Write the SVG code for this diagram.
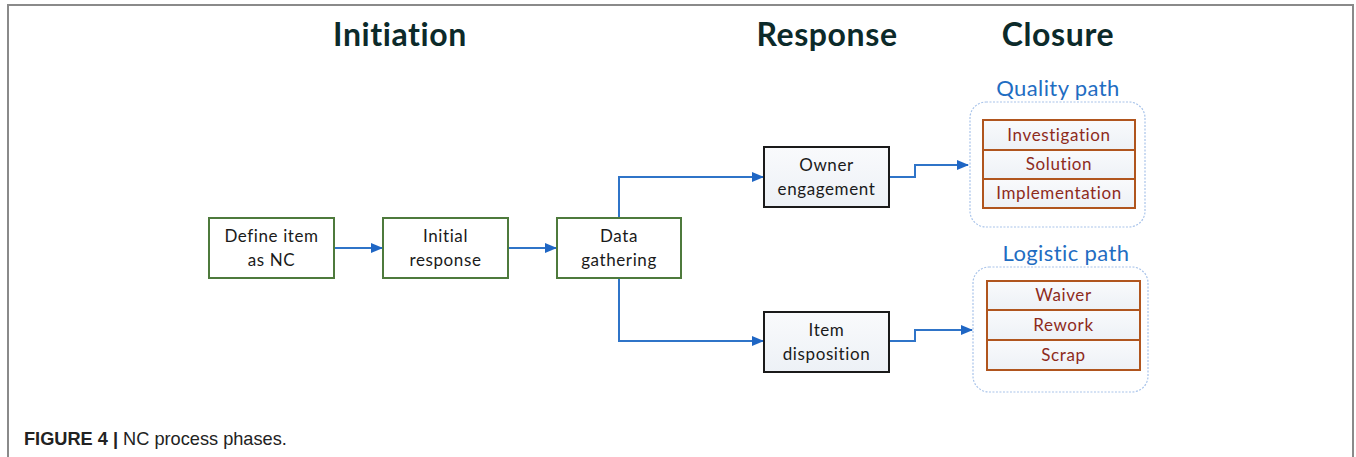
<svg xmlns="http://www.w3.org/2000/svg" width="1356" height="457" viewBox="0 0 1356 457">
  <defs>
    <style>
      .phase { font-family: Lato, "Open Sans", sans-serif; font-weight: bold; font-size: 32px; letter-spacing: 0.6px; fill: #0c2a2a; text-anchor: middle; }
      .path-title { font-family: Lato, "Open Sans", sans-serif; font-size: 22px; letter-spacing: 0.4px; fill: #1f6dc2; text-anchor: middle; }
      .lbl { font-family: Lato, "Open Sans", sans-serif; font-size: 17px; letter-spacing: 0.6px; fill: #1a1a1a; text-anchor: middle; }
      .step { font-family: Lato, "Open Sans", sans-serif; font-size: 17px; letter-spacing: 0.6px; fill: #8e2b1c; text-anchor: middle; }
      .green { fill: #ffffff; stroke: #4e7a3c; stroke-width: 2; }
      .black { fill: url(#pale); stroke: #1a1a1a; stroke-width: 2; }
      .cell { fill: url(#pale); stroke: #b0551e; stroke-width: 2; }
      .group { fill: #ffffff; stroke: #a9c4ea; stroke-width: 1.2; stroke-dasharray: 2 1.5; }
      .wire { fill: none; stroke: #2f74c8; stroke-width: 2; marker-end: url(#arrow); }
      .frame { fill: none; stroke: #8a8a8a; stroke-width: 2; }
      .cap { font-family: "Liberation Sans", Arial, sans-serif; font-size: 18.2px; fill: #222; }
    </style>
    <linearGradient id="pale" x1="0" y1="0" x2="0" y2="1">
      <stop offset="0" stop-color="#f9fafc"/>
      <stop offset="1" stop-color="#edf1f6"/>
    </linearGradient>
    <marker id="arrow" viewBox="0 0 12 10" refX="11" refY="5" markerWidth="12" markerHeight="10" markerUnits="userSpaceOnUse" orient="auto">
      <path d="M0,0 L12,5 L0,10 Z" fill="#1f66c4"/>
    </marker>
  </defs>

  <rect width="1356" height="457" fill="#ffffff"/>
  <path class="frame" d="M8,457 V5 H1353 V457"/>

  <!-- phase headings -->
  <text class="phase" x="400" y="46">Initiation</text>
  <text class="phase" x="827" y="46">Response</text>
  <text class="phase" x="1058" y="46">Closure</text>

  <!-- connectors -->
  <g id="connectors">
    <path class="wire" d="M334,248 H382"/>
    <path class="wire" d="M508,248 H556"/>
    <path class="wire" d="M619,218 V177 H763"/>
    <path class="wire" d="M619,278 V341 H763"/>
    <path class="wire" d="M889,177 H915 V165 H968"/>
    <path class="wire" d="M889,341 H915 V330 H972"/>
  </g>

  <g id="define-item">
    <rect class="green" x="209" y="218" width="125" height="60"/>
    <text class="lbl" x="271.5" y="242">Define item</text>
    <text class="lbl" x="271.5" y="266">as NC</text>
  </g>

  <g id="initial-response">
    <rect class="green" x="383" y="218" width="125" height="60"/>
    <text class="lbl" x="445.5" y="242">Initial</text>
    <text class="lbl" x="445.5" y="266">response</text>
  </g>

  <g id="data-gathering">
    <rect class="green" x="557" y="218" width="124" height="60"/>
    <text class="lbl" x="619" y="242">Data</text>
    <text class="lbl" x="619" y="266">gathering</text>
  </g>

  <g id="owner-engagement">
    <rect class="black" x="764" y="147" width="125" height="60"/>
    <text class="lbl" x="826.5" y="171">Owner</text>
    <text class="lbl" x="826.5" y="195">engagement</text>
  </g>

  <g id="item-disposition">
    <rect class="black" x="764" y="312" width="125" height="60"/>
    <text class="lbl" x="826.5" y="336">Item</text>
    <text class="lbl" x="826.5" y="360">disposition</text>
  </g>

  <g id="quality-path">
    <text class="path-title" x="1058" y="96">Quality path</text>
    <rect class="group" x="970" y="102" width="175" height="125" rx="16"/>
    <rect class="cell" x="983" y="120" width="152" height="30"/>
    <rect class="cell" x="983" y="150" width="152" height="29"/>
    <rect class="cell" x="983" y="179" width="152" height="29"/>
    <text class="step" x="1059" y="141">Investigation</text>
    <text class="step" x="1059" y="170">Solution</text>
    <text class="step" x="1059" y="199">Implementation</text>
  </g>

  <g id="logistic-path">
    <text class="path-title" x="1066" y="261">Logistic path</text>
    <rect class="group" x="973" y="267" width="175" height="125" rx="16"/>
    <rect class="cell" x="987" y="281" width="153" height="29"/>
    <rect class="cell" x="987" y="310" width="153" height="30"/>
    <rect class="cell" x="987" y="340" width="153" height="30"/>
    <text class="step" x="1063.5" y="301">Waiver</text>
    <text class="step" x="1063.5" y="331">Rework</text>
    <text class="step" x="1063.5" y="361">Scrap</text>
  </g>

  <g id="caption">
    <text class="cap" x="24" y="445"><tspan font-weight="bold">FIGURE 4 |</tspan> NC process phases.</text>
  </g>
</svg>
